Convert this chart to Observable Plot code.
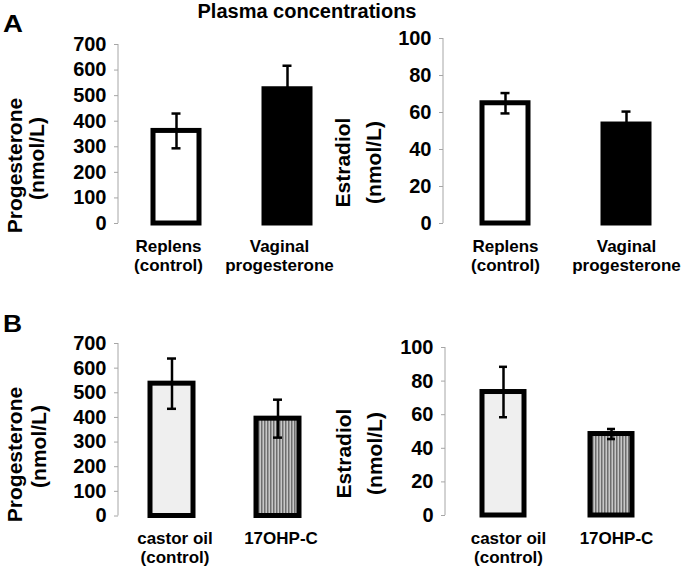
<!DOCTYPE html>
<html>
<head>
<meta charset="utf-8">
<script src="https://cdn.jsdelivr.net/npm/d3@7"></script>
<script src="https://cdn.jsdelivr.net/npm/@observablehq/plot@0.6"></script>
<style>
  html, body { margin: 0; padding: 0; background: #fff; }
  #fig { position: relative; width: 689px; height: 572px; background: #fff; overflow: hidden;
         font-family: "Liberation Sans", Arial, sans-serif; font-weight: bold; color: #000; }
  .panel { position: absolute; }
  .htxt { position: absolute; white-space: nowrap; line-height: 1; }
</style>
</head>
<body>
<div id="fig">
  <div class="htxt" id="title" style="left:0;width:614px;top:1px;font-size:20px;text-align:center;">Plasma concentrations</div>
  <div class="htxt" style="left:3px;top:12px;font-size:24px;transform:scaleX(1.15);transform-origin:0 0;">A</div>
  <div class="htxt" style="left:3px;top:312px;font-size:24px;transform:scaleX(1.1);transform-origin:0 0;">B</div>
</div>
<script>
// ---------- data ----------
const groupsA = ["Replens\n(control)", "Vaginal\nprogesterone"];
const groupsB = ["castor oil\n(control)", "17OHP-C"];

const progesteroneA = [362, 525];
const progesteroneAErr = [68, 92];
const estradiolA = [65, 53.5];
const estradiolAErr = [5.5, 7];

const progesteroneB = [537, 395];
const progesteroneBErr = [102, 77];
const estradiolB = [73.5, 48.5];
const estradiolBErr = [15, 3];

const progesteroneTicks = [0, 100, 200, 300, 400, 500, 600, 700];
const estradiolTicks = [0, 20, 40, 60, 80, 100];

const yLabelProgesterone = ["Progesterone", "(nmol/L)"];
const yLabelEstradiol = ["Estradiol", "(nmol/L)"];

// ---------- drawing ----------
const fig = document.getElementById("fig");
const fillsA = ["#ffffff", "#000000"];
const fillsB = ["#efefef", "url(#vstripes)"];

function rows(groups, values, errors) {
  return groups.map((g, i) => ({g, v: values[i], e: errors[i]}));
}

function panel(cfg) {
  const data = rows(cfg.groups, cfg.values, cfg.errors);
  const ticks = cfg.ticks;
  const yMax = ticks[ticks.length - 1];
  const axisLine = (index, scales, values, dims) => {
    const l = document.createElementNS("http://www.w3.org/2000/svg", "line");
    l.setAttribute("x1", dims.marginLeft);
    l.setAttribute("x2", dims.marginLeft);
    l.setAttribute("y1", scales.y(yMax));
    l.setAttribute("y2", scales.y(0));
    l.setAttribute("stroke", "#a6a6a6");
    l.setAttribute("stroke-width", 1);
    return l;
  };
  const svg = Plot.plot({
    width: cfg.width,
    height: cfg.height,
    marginLeft: cfg.mL, marginRight: cfg.mR, marginTop: cfg.mT, marginBottom: cfg.mB,
    style: {fontFamily: "'Liberation Sans', Arial, sans-serif", fontSize: "20px", fontWeight: "bold",
            color: "black", background: "transparent", overflow: "visible"},
    x: {type: "band", domain: cfg.groups, paddingInner: cfg.padIn, paddingOuter: cfg.padOut, axis: null},
    y: {domain: [0, yMax], axis: null},
    color: {type: "ordinal", domain: cfg.groups, range: cfg.fills},
    marks: [
      axisLine,
      Plot.axisY({ticks, tickSize: 4, tickPadding: 8, stroke: "#a6a6a6", fill: "black", label: null, fontSize: 20}),
      Plot.barY(data, {x: "g", y: "v", fill: "g", stroke: "black", strokeWidth: 5}),
      Plot.ruleX(data, {x: "g", y1: d => d.v - d.e, y2: d => d.v + d.e, stroke: "black", strokeWidth: 2.5}),
      Plot.tickY(data, {x: "g", y: d => d.v + d.e, inset: cfg.capInset, stroke: "black", strokeWidth: 2.5}),
      Plot.tickY(data, {x: "g", y: d => d.v - d.e, inset: cfg.capInset, stroke: "black", strokeWidth: 2.5}),
      Plot.text(cfg.groups, {x: d => d, text: d => d, frameAnchor: "bottom", lineAnchor: "top", textAnchor: "middle",
                             lineHeight: 1.12, dx: cfg.xDx, dy: cfg.xDy, fontSize: 17}),
      Plot.text([cfg.yLabel[0]], {text: d => d, frameAnchor: "top-left", rotate: -90,
                                  textAnchor: "middle", lineAnchor: "middle",
                                  dx: cfg.yCols[0] - cfg.mL, dy: cfg.yCy[0] - cfg.mT, fontSize: 21}),
      Plot.text([cfg.yLabel[1]], {text: d => d, frameAnchor: "top-left", rotate: -90,
                                  textAnchor: "middle", lineAnchor: "middle",
                                  dx: cfg.yCols[1] - cfg.mL, dy: cfg.yCy[1] - cfg.mT, fontSize: 21})
    ]
  });
  d3.select(svg).insert("defs", ":first-child").html(
    '<pattern id="vstripes" width="3" height="10" patternUnits="userSpaceOnUse">' +
    '<rect width="3" height="10" fill="#c8c8c8"></rect><rect width="1.5" height="10" fill="#6e6e6e"></rect></pattern>');
  const wrap = document.createElement("div");
  wrap.className = "panel";
  wrap.style.left = cfg.left + "px";
  wrap.style.top = cfg.top + "px";
  wrap.appendChild(svg);
  fig.appendChild(wrap);
}

panel({groups: groupsA, values: progesteroneA, errors: progesteroneAErr, ticks: progesteroneTicks,
       yLabel: yLabelProgesterone, fills: fillsA,
       left: 0, top: 0, width: 345, height: 290, mL: 118, mR: 0, mT: 44, mB: 67,
       padIn: 0.59, padOut: 0.31, capInset: 18.5, xDx: -8, xDy: 14.9,
       yCols: [15, 37], yCy: [165, 158]});

panel({groups: groupsA, values: estradiolA, errors: estradiolAErr, ticks: estradiolTicks,
       yLabel: yLabelEstradiol, fills: fillsA,
       left: 325, top: 0, width: 364, height: 290, mL: 118, mR: 2, mT: 38, mB: 67,
       padIn: 0.62, padOut: 0.318, capInset: 18.5, xDx: 0, xDy: 14.9,
       yCols: [17.5, 48.5], yCy: [162, 162]});

panel({groups: groupsB, values: progesteroneB, errors: progesteroneBErr, ticks: progesteroneTicks,
       yLabel: yLabelProgesterone, fills: fillsB,
       left: 0, top: 290, width: 345, height: 282, mL: 118, mR: 15, mT: 53, mB: 56.5,
       padIn: 0.598, padOut: 0.29, capInset: 17, xDx: 3, xDy: 14.6,
       yCols: [15, 39], yCy: [164, 156]});

panel({groups: groupsB, values: estradiolB, errors: estradiolBErr, ticks: estradiolTicks,
       yLabel: yLabelEstradiol, fills: fillsB,
       left: 325, top: 290, width: 364, height: 282, mL: 120, mR: 19.4, mT: 57, mB: 57,
       padIn: 0.608, padOut: 0.339, capInset: 17, xDx: 5, xDy: 15.1,
       yCols: [19, 49.5], yCy: [163, 163]});
</script>
</body>
</html>
